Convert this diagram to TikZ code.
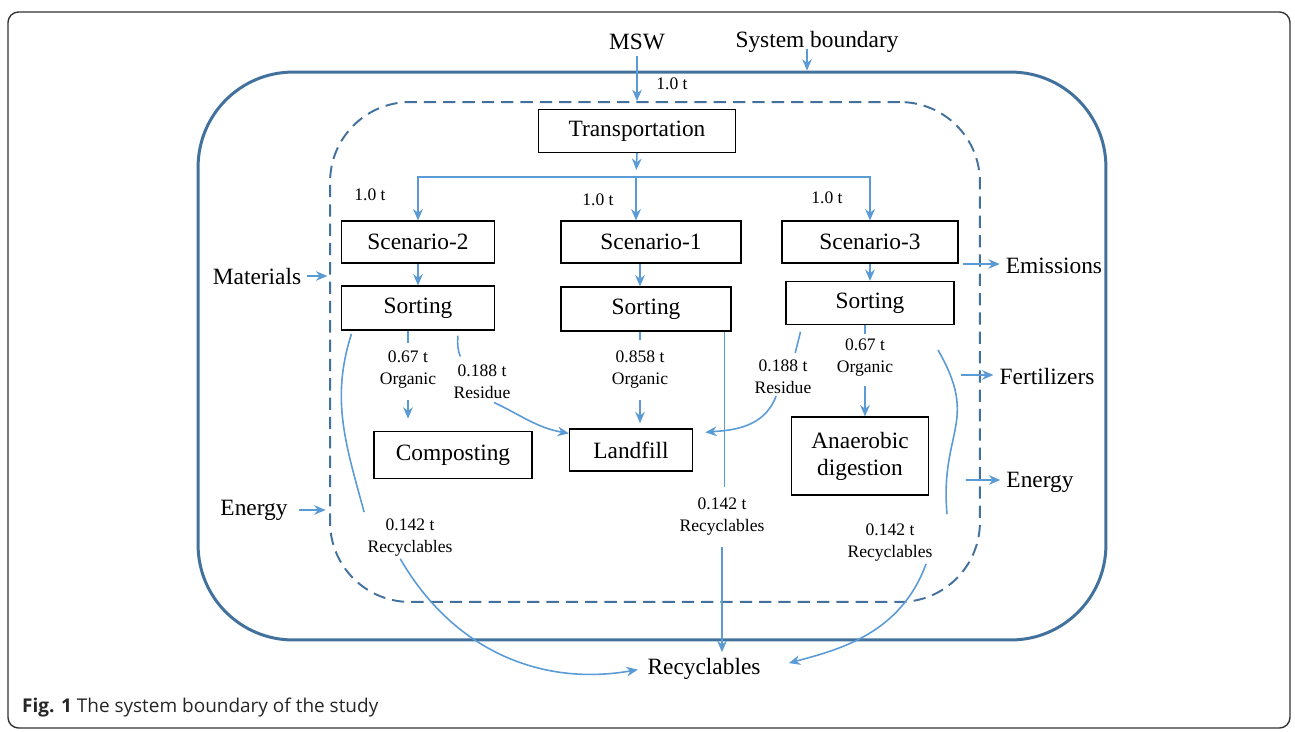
\documentclass[tikz,border=0pt]{standalone}
\usepackage{fontspec}
\setmainfont{Liberation Serif}
\newfontfamily\capfont{Open Sans}
\usetikzlibrary{arrows.meta, positioning}
\definecolor{flowblue}{HTML}{5B9BD5}
\definecolor{bndblue}{HTML}{41719C}
\definecolor{framegray}{HTML}{333333}

\begin{document}
\begin{tikzpicture}[x=0.02cm, y=0.02cm,
  every node/.style={font=\fontsize{13.3}{15.3}\selectfont},
  box/.style={rectangle, draw=black, line width=0.6pt, minimum height=0.84cm, align=center, inner sep=2pt},
  amount/.style={font=\fontsize{10}{12.5}\selectfont, align=center, inner sep=1pt},
  flow/.style={-{Stealth[length=6.5pt, width=5.5pt]}, flowblue, line width=0.9pt},
  stub/.style={flowblue, line width=0.9pt},
]
\useasboundingbox (0,0) rectangle (1295,-731);
\draw[framegray, line width=0.8pt, rounded corners=6pt] (8,-12) rectangle (1290,-728);

\node[draw=bndblue, line width=1.7pt, rounded corners=1.9cm, inner sep=0pt, minimum width=18.16cm, minimum height=11.36cm] (outer) at (652,-356) {};
\node[draw=bndblue, line width=1.1pt, dash pattern=on 7pt off 4pt, rounded corners=1.6cm, inner sep=0pt, minimum width=13cm, minimum height=10cm] (inner) at (655,-352) {};

\node (msw) at (637,-42) {MSW};
\node (sysb) at (817,-42) {System boundary};
\node[amount] (t0) at (672,-84) {1.0 t};
\node[box, minimum width=3.94cm, minimum height=0.86cm] (transp) at (637,-131) {Transportation};
\coordinate (split) at (636,-177);
\node[amount] (t2) at (370,-195) {1.0 t};
\node[amount] (t1) at (598,-200) {1.0 t};
\node[amount] (t3) at (827,-198) {1.0 t};
\node[box, minimum width=3.06cm] (scen2) at (418,-242) {Scenario-2};
\node[box, minimum width=3.6cm] (scen1) at (651,-242) {Scenario-1};
\node[box, minimum width=3.52cm] (scen3) at (870,-242) {Scenario-3};
\node[box, minimum width=3.06cm, minimum height=0.88cm] (sort2) at (418,-308) {Sorting};
\node[box, minimum width=3.4cm, minimum height=0.88cm] (sort1) at (646,-309) {Sorting};
\node[box, minimum width=3.36cm, minimum height=0.86cm] (sort3) at (870,-303) {Sorting};
\node[amount] (org2) at (408,-370) {0.67 t\\Organic};
\node[amount] (res2) at (482,-382) {0.188 t\\Residue};
\node[amount] (org1) at (640,-370) {0.858 t\\Organic};
\node[amount] (res3) at (783,-377) {0.188 t\\Residue};
\node[amount] (org3) at (865,-358) {0.67 t\\Organic};
\node[box, minimum width=3.16cm, minimum height=0.94cm] (compost) at (453,-455) {Composting};
\node[box, minimum width=2.46cm] (landfill) at (631,-450) {Landfill};
\node[box, minimum width=2.74cm, minimum height=1.56cm] (ad) at (860,-456) {Anaerobic\\digestion};
\node[amount] (rec2) at (410,-538) {0.142 t\\Recyclables};
\node[amount] (rec1) at (722,-517) {0.142 t\\Recyclables};
\node[amount] (rec3) at (890,-543) {0.142 t\\Recyclables};
\node (recyc) at (704,-669) {Recyclables};
\node (materials) at (257,-276) {Materials};
\node (energyin) at (254,-510) {Energy};
\node (emis) at (1054,-266) {Emissions};
\node (fert) at (1047,-376) {Fertilizers};
\node (energyout) at (1040,-482) {Energy};
\coordinate (emisfrom) at (963,-264);
\coordinate (fertfrom) at (961,-375);
\coordinate (energyfrom) at (966,-480);
\coordinate (arc3a) at (938,-350);
\coordinate (arc3b) at (947,-514);
\node[anchor=west, text=black!85, font=\capfont\fontsize{10.8}{13}\selectfont] (caption) at (16,-708) {\textbf{Fig. 1} The system boundary of the study};

\draw[flow] (msw.south) -- (msw.south |- inner.north);
\draw[flow] ([xshift=-0.2cm, yshift=0.2cm]sysb.south) -- ([xshift=-0.2cm]sysb.south |- outer.north);
\draw[flow, shorten >=4pt] (transp.south) -- (split);
\draw[flow] (split) -| (scen2.north);
\draw[flow] (split) -- (split |- scen1.north);
\draw[flow] (split) -| (scen3.north);
\draw[flow] (scen2) -- (sort2);
\draw[flow] (scen1.south -| org1) -- (org1 |- sort1.north);
\draw[flow] (scen3) -- (sort3);

\draw[stub, shorten >=3.5pt] (sort2.south -| org2) -- (org2.north);
\draw[flow, shorten <=5pt, shorten >=7pt] (org2.south) -- (org2.south |- compost.north);
\draw[stub, shorten <=3pt, shorten >=4pt] (sort2.-29) to[bend right=15] (res2.135);
\draw[flow, shorten <=2pt] (res2.-65) to[out=-25, in=170] (landfill.165);
\draw[stub, shorten >=5pt] (sort1.south -| org1) -- (org1.north);
\draw[flow, shorten <=5pt, shorten >=3pt] (org1.south) -- (org1.south |- landfill.north);
\draw[stub, shorten >=5pt] (sort1.-16) -- (sort1.-16 |- rec1.north);
\draw[flow, shorten <=5pt] (rec1.south) -- (rec1.south |- recyc.north);
\draw[stub, shorten <=4pt, shorten >=3pt] (sort3.-162) -- (res3.60);
\draw[flow, shorten >=7pt] (res3.-110) to[out=-110, in=5] (landfill.15);
\draw[stub, shorten >=2pt] (sort3.south -| org3) -- (org3.north);
\draw[flow, shorten <=4pt] (org3.south) -- (org3.south |- ad.north);
\draw[stub, shorten <=2pt, shorten >=3pt] (sort2.-161) to[out=-108, in=105] (rec2.north west);
\draw[stub] (arc3a) to[out=-60, in=95, looseness=1.3] (arc3b);
\draw[flow, shorten >=2pt] (rec2.-115) to[out=-60, in=190] (recyc.west);
\draw[flow, shorten >=13pt] (rec3.-30) to[out=-110, in=15] (recyc.east);

\draw[flow, shorten >=1pt] (materials.east) -- (materials.east -| inner.west);
\draw[flow, shorten <=3pt, shorten >=2pt] (energyin.east) -- (energyin.east -| inner.west);
\draw[flow] (emisfrom) -- (emisfrom -| emis.west);
\draw[flow] (fertfrom) -- (fertfrom -| fert.west);
\draw[flow] (energyfrom) -- (energyfrom -| energyout.west);
\end{tikzpicture}
\end{document}
